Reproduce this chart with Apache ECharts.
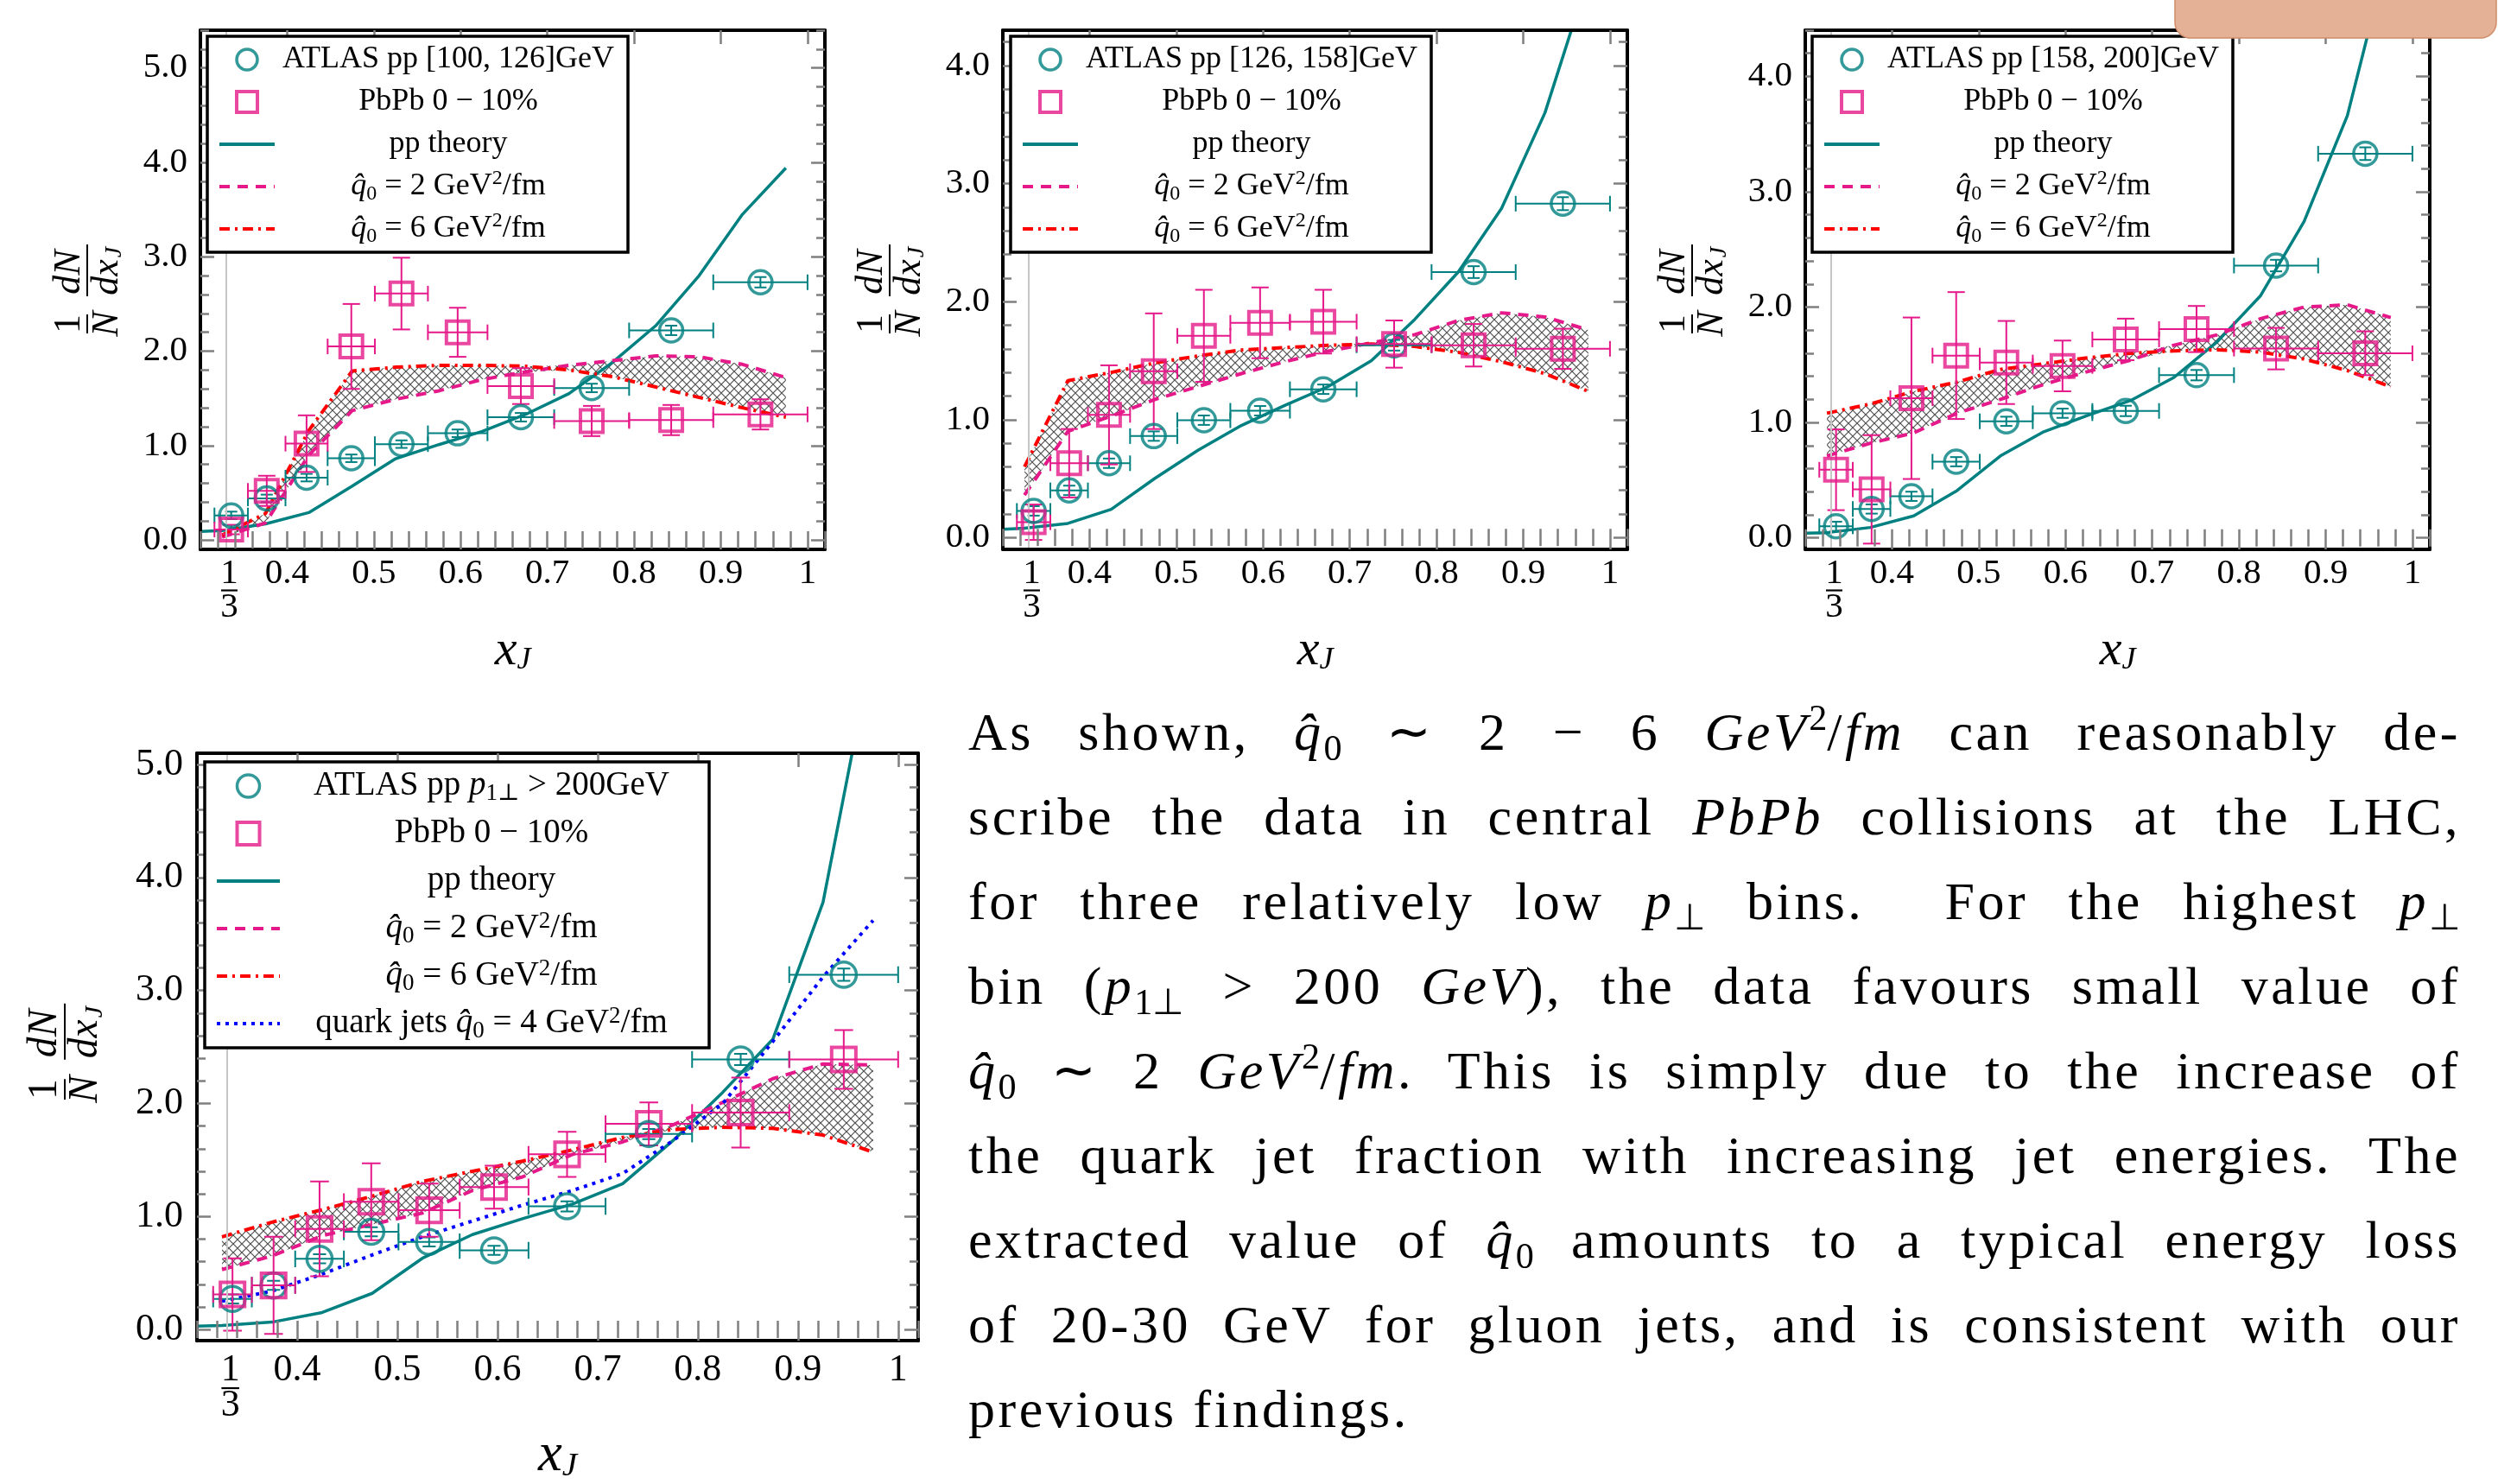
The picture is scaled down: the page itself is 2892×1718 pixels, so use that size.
<!DOCTYPE html>
<html>
<head>
<meta charset="utf-8">
<title>x_J distributions</title>
<script src="https://cdn.jsdelivr.net/npm/echarts@6/dist/echarts.min.js"></script>
<style>
  html, body { margin: 0; padding: 0; background: #fff; }
  #main { position: absolute; left: 0; top: 0; width: 2892px; height: 1718px; }
  #para { position: absolute; left: 1121px; top: 798px; width: 1728px;
          font-family: "Liberation Serif", serif; font-size: 62px; letter-spacing: 3.5px; color: #000; }
  #para .ln { height: 98px; line-height: 98px; text-align: justify; text-align-last: justify; }
  #para .last { text-align-last: left; }
  #para sub, #para sup { font-size: 0.68em; line-height: 0; letter-spacing: 0; }
  #para sub { vertical-align: -0.28em; }
  #para sup { vertical-align: 0.55em; }
</style>
</head>
<body>
<div id="main"></div>
<div id="para">
  <div class="ln">As shown, <i>q&#770;</i><sub>0</sub> &sim; 2 &minus; 6 <i>GeV</i><sup>2</sup>/<i>fm</i> can reasonably de-</div>
  <div class="ln">scribe the data in central <i>PbPb</i> collisions at the LHC,</div>
  <div class="ln">for three relatively low <i>p</i><sub>&perp;</sub> bins. &nbsp;For the highest <i>p</i><sub>&perp;</sub></div>
  <div class="ln">bin (<i>p</i><sub>1&perp;</sub> &gt; 200 <i>GeV</i>), the data favours small value of</div>
  <div class="ln"><i>q&#770;</i><sub>0</sub> &sim; 2 <i>GeV</i><sup>2</sup>/<i>fm</i>. This is simply due to the increase of</div>
  <div class="ln">the quark jet fraction with increasing jet energies. The</div>
  <div class="ln">extracted value of <i>q&#770;</i><sub>0</sub> amounts to a typical energy loss</div>
  <div class="ln">of 20-30 GeV for gluon jets, and is consistent with our</div>
  <div class="ln last">previous findings.</div>
</div>
<script>
// x_J bins of the ATLAS / PbPb points
const binLo  = [0.3162, 0.3548, 0.3981, 0.4467, 0.5012, 0.5623, 0.6310, 0.7079, 0.7943, 0.8913];
const binHi  = [0.3548, 0.3981, 0.4467, 0.5012, 0.5623, 0.6310, 0.7079, 0.7943, 0.8913, 1.0];
const binMid = [0.3355, 0.3765, 0.4224, 0.4740, 0.5318, 0.5966, 0.6695, 0.7511, 0.8428, 0.9457];

// x grid of the theory curves
const tX = [0.30, 0.325, 0.375, 0.425, 0.475, 0.525, 0.575, 0.625, 0.675, 0.725, 0.775, 0.825, 0.875, 0.925, 0.975];
const bX = [0.325, 0.375, 0.425, 0.475, 0.525, 0.575, 0.625, 0.675, 0.725, 0.775, 0.825, 0.875, 0.925, 0.975];

// tick labels
const xTickLabels = [1 / 3, 0.4, 0.5, 0.6, 0.7, 0.8, 0.9, 1.0];
const xMajor = [0.4, 0.5, 0.6, 0.7, 0.8, 0.9, 1.0];

// panel 1: [100, 126] GeV
const p1Atlas    = [0.26, 0.44, 0.66, 0.865, 1.015, 1.13, 1.30, 1.61, 2.22, 2.73];
const p1AtlasErr = [0.04, 0.04, 0.04, 0.04, 0.04, 0.04, 0.045, 0.045, 0.05, 0.055];
const p1PbPb     = [0.11, 0.52, 1.02, 2.05, 2.61, 2.20, 1.63, 1.26, 1.27, 1.33];
const p1PbPbErr  = [0.05, 0.16, 0.30, 0.45, 0.38, 0.26, 0.19, 0.16, 0.16, 0.16];
const p1Theory   = [0.09, 0.10, 0.17, 0.29, 0.57, 0.86, 1.01, 1.15, 1.33, 1.55, 1.88, 2.27, 2.80, 3.45, 3.94];
const p1Q2       = [0.03, 0.18, 0.90, 1.37, 1.49, 1.58, 1.70, 1.78, 1.85, 1.90, 1.95, 1.94, 1.86, 1.72];
const p1Q6       = [0.05, 0.28, 1.16, 1.79, 1.83, 1.85, 1.85, 1.84, 1.80, 1.73, 1.62, 1.51, 1.40, 1.30];

// panel 2: [126, 158] GeV
const p2Atlas    = [0.226, 0.40, 0.63, 0.86, 0.995, 1.075, 1.257, 1.63, 2.25, 2.83];
const p2AtlasErr = [0.04, 0.04, 0.04, 0.04, 0.04, 0.04, 0.04, 0.045, 0.05, 0.055];
const p2PbPb     = [0.13, 0.63, 1.04, 1.41, 1.71, 1.82, 1.83, 1.64, 1.63, 1.60];
const p2PbPbErr  = [0.15, 0.29, 0.42, 0.49, 0.39, 0.30, 0.27, 0.20, 0.18, 0.17];
const p2Theory   = [0.07, 0.08, 0.12, 0.24, 0.50, 0.74, 0.95, 1.12, 1.28, 1.50, 1.85, 2.25, 2.79, 3.60, 4.75];
const p2Q2       = [0.36, 0.90, 1.03, 1.17, 1.28, 1.39, 1.49, 1.58, 1.65, 1.72, 1.84, 1.905, 1.87, 1.76];
const p2Q6       = [0.60, 1.33, 1.40, 1.48, 1.54, 1.59, 1.61, 1.63, 1.64, 1.62, 1.57, 1.49, 1.39, 1.24];

// panel 3: [158, 200] GeV
const p3Atlas    = [0.10, 0.25, 0.36, 0.66, 1.01, 1.08, 1.10, 1.41, 2.36, 3.33];
const p3AtlasErr = [0.04, 0.04, 0.04, 0.04, 0.04, 0.04, 0.045, 0.045, 0.05, 0.055];
const p3PbPb     = [0.59, 0.42, 1.21, 1.58, 1.52, 1.49, 1.72, 1.81, 1.64, 1.60];
const p3PbPbErr  = [0.35, 0.47, 0.70, 0.55, 0.36, 0.22, 0.18, 0.20, 0.18, 0.19];
const p3Theory   = [0.04, 0.045, 0.09, 0.19, 0.41, 0.71, 0.92, 1.06, 1.19, 1.39, 1.70, 2.10, 2.74, 3.66, 5.15];
const p3Q2       = [0.71, 0.82, 0.91, 1.08, 1.20, 1.33, 1.44, 1.54, 1.67, 1.76, 1.90, 2.00, 2.02, 1.91];
const p3Q6       = [1.08, 1.16, 1.27, 1.35, 1.46, 1.51, 1.56, 1.60, 1.62, 1.63, 1.61, 1.55, 1.45, 1.31];

// panel 4: p1 > 200 GeV
const p4Atlas    = [0.27, 0.39, 0.625, 0.865, 0.775, 0.70, 1.09, 1.73, 2.39, 3.14];
const p4AtlasErr = [0.04, 0.04, 0.04, 0.04, 0.04, 0.04, 0.045, 0.045, 0.05, 0.055];
const p4PbPb     = [0.31, 0.39, 0.89, 1.13, 1.055, 1.26, 1.55, 1.82, 1.92, 2.39];
const p4PbPbErr  = [0.32, 0.43, 0.42, 0.34, 0.235, 0.19, 0.20, 0.19, 0.31, 0.26];
const p4Theory   = [0.03, 0.035, 0.065, 0.15, 0.32, 0.63, 0.84, 0.98, 1.11, 1.29, 1.67, 2.10, 2.57, 3.78, 6.05];
const p4Q2       = [0.53, 0.65, 0.83, 0.93, 1.03, 1.23, 1.35, 1.55, 1.66, 1.81, 2.01, 2.22, 2.35, 2.34];
const p4Q6       = [0.82, 0.95, 1.06, 1.18, 1.31, 1.40, 1.49, 1.59, 1.70, 1.77, 1.79, 1.78, 1.72, 1.57];
const p4Quark    = [0.25, 0.34, 0.49, 0.66, 0.82, 0.96, 1.10, 1.23, 1.38, 1.67, 2.00, 2.55, 3.12, 3.62];

const SERIF = '"Liberation Serif", "DejaVu Serif", serif';
const TEAL = '#008080', PINK = '#e5198a', RED = '#ff0000', BLUE = '#0000ff', TICK = '#7f7f7f';

const NAME_PB = 'PbPb 0 − 10%';
const NAME_TH = 'pp theory';
const NAME_Q2 = 'q̂0 = 2 GeV²/fm';
const NAME_Q6 = 'q̂0 = 6 GeV²/fm';
const NAME_QK = 'quark jets q̂0 = 4 GeV²/fm';
const LINE_NAMES = [NAME_TH, NAME_Q2, NAME_Q6, NAME_QK];

const legendText = {
  'ATLAS pp [100, 126]GeV': '{r|ATLAS pp [100, 126]GeV}',
  'ATLAS pp [126, 158]GeV': '{r|ATLAS pp [126, 158]GeV}',
  'ATLAS pp [158, 200]GeV': '{r|ATLAS pp [158, 200]GeV}',
  'ATLAS pp p1⊥ > 200GeV': '{r|ATLAS pp }{i|p}{sb|1⊥}{r| > 200GeV}',
  [NAME_PB]: '{r|PbPb 0 − 10%}',
  [NAME_TH]: '{r|pp theory}',
  [NAME_Q2]: '{i|q̂}{sb|0}{r| = 2 GeV}{sp|2}{r|/fm}',
  [NAME_Q6]: '{i|q̂}{sb|0}{r| = 6 GeV}{sp|2}{r|/fm}',
  [NAME_QK]: '{r|quark jets }{i|q̂}{sb|0}{r| = 4 GeV}{sp|2}{r|/fm}'
};

const panels = [
  { grid: { left: 232, top: 35, width: 723, height: 601 }, yMax: 5.4, s: 1,
    atlasName: 'ATLAS pp [100, 126]GeV', atlas: p1Atlas, atlasErr: p1AtlasErr, pbpb: p1PbPb, pbpbErr: p1PbPbErr,
    theory: p1Theory, q2: p1Q2, q6: p1Q6, legend: [240, 42], yLab: [101, 335], nameGap: 84, xMargin: 13 },
  { grid: { left: 1161, top: 35, width: 723, height: 601 }, yMax: 4.3, s: 1,
    atlasName: 'ATLAS pp [126, 158]GeV', atlas: p2Atlas, atlasErr: p2AtlasErr, pbpb: p2PbPb, pbpbErr: p2PbPbErr,
    theory: p2Theory, q2: p2Q2, q6: p2Q6, legend: [1170, 42], yLab: [1030, 335], nameGap: 84, xMargin: 13 },
  { grid: { left: 2090, top: 35, width: 723, height: 601 }, yMax: 4.4, s: 1,
    atlasName: 'ATLAS pp [158, 200]GeV', atlas: p3Atlas, atlasErr: p3AtlasErr, pbpb: p3PbPb, pbpbErr: p3PbPbErr,
    theory: p3Theory, q2: p3Q2, q6: p3Q6, legend: [2098, 42], yLab: [1959, 335], nameGap: 84, xMargin: 13 },
  { grid: { left: 228, top: 872, width: 835, height: 694 }, yMax: 5.1, s: 1.08,
    atlasName: 'ATLAS pp p1⊥ > 200GeV', atlas: p4Atlas, atlasErr: p4AtlasErr, pbpb: p4PbPb, pbpbErr: p4PbPbErr,
    theory: p4Theory, q2: p4Q2, q6: p4Q6, quark: p4Quark, legend: [237, 882], yLab: [75, 1218], nameGap: 102, xMargin: 18 }
];

function steps(a, b, d) {
  const out = [];
  for (let k = 0; a + k * d <= b + 1e-9; k++) out.push(Math.round((a + k * d) * 1000) / 1000);
  return out;
}
const xMinor = steps(0.3, 1.02, 0.02);

// cross hatch tile for the band between the two q0 curves
function hatchTile() {
  const c = document.createElement('canvas');
  c.width = 10; c.height = 10;
  const g = c.getContext('2d');
  g.strokeStyle = '#505050';
  g.lineWidth = 1.2;
  g.beginPath();
  g.moveTo(-5, -5); g.lineTo(15, 15);
  g.moveTo(15, -5); g.lineTo(-5, 15);
  g.stroke();
  return c;
}
const hatch = hatchTile();

function errRender(color, capX, capY) {
  return function (params, api) {
    const x = api.value(0), y = api.value(1);
    const c = api.coord([x, y]);
    const l = api.coord([api.value(2), y]);
    const r = api.coord([api.value(3), y]);
    const b = api.coord([x, api.value(4)]);
    const t = api.coord([x, api.value(5)]);
    const st = { stroke: color, lineWidth: 2 };
    const seg = (x1, y1, x2, y2) => ({ type: 'line', shape: { x1, y1, x2, y2 }, style: st });
    return {
      type: 'group',
      children: [
        seg(l[0], c[1], r[0], c[1]),
        seg(l[0], c[1] - capX, l[0], c[1] + capX),
        seg(r[0], c[1] - capX, r[0], c[1] + capX),
        seg(c[0], b[1], c[0], t[1]),
        seg(c[0] - capY, b[1], c[0] + capY, b[1]),
        seg(c[0] - capY, t[1], c[0] + capY, t[1])
      ]
    };
  };
}

function yFraction(cx, cy, s) {
  const f = 44 * s;
  const txt = (x, y, t, italic, size) => ({
    type: 'text', x: x * s, y: y * s,
    style: { text: t, fontFamily: SERIF, fontSize: size || f, fontStyle: italic ? 'italic' : 'normal',
             fill: '#000', align: 'center', verticalAlign: 'middle' }
  });
  const bar = (x1, x2) => ({ type: 'line', shape: { x1: x1 * s, y1: 0, x2: x2 * s, y2: 0 }, style: { stroke: '#000', lineWidth: 2 } });
  return {
    type: 'group', x: cx, y: cy, rotation: Math.PI / 2, z: 10,
    children: [
      txt(-40, -21, '1', false), bar(-51, -29), txt(-40, 23, 'N', true),
      txt(20, -21, 'dN', true), bar(-8, 52), txt(14, 23, 'dx', true), txt(43, 32, 'J', true, 28 * s)
    ]
  };
}

const option = {
  animation: false,
  backgroundColor: '#fff',
  grid: [], xAxis: [], yAxis: [], legend: [], series: [],
  graphic: { elements: [] }
};

panels.forEach((P, i) => {
  const s = P.s;
  const fs = Math.round(41 * s);
  const lh = Math.round(30 * s);
  option.grid.push(Object.assign({ containLabel: false, show: false }, P.grid));

  const frame = { show: true, onZero: false, lineStyle: { color: '#000', width: 4 } };
  const majTick = (vals) => ({ show: true, inside: true, length: 16, customValues: vals, lineStyle: { color: TICK, width: 2.5 } });
  const minTick = (vals) => ({ show: true, inside: true, length: 10, customValues: vals, lineStyle: { color: TICK, width: 2.5 } });
  const xBase = { gridIndex: i, type: 'value', min: 0.3, max: 1.02, splitLine: { show: false }, z: 6,
                  axisLabel: { show: false }, axisLine: { show: false } };
  option.xAxis.push(
    Object.assign({}, xBase, {
      position: 'bottom', axisLine: frame, axisTick: majTick(xMajor),
      axisLabel: {
        show: true, customValues: xTickLabels, margin: P.xMargin, color: '#000',
        fontFamily: SERIF, fontSize: fs, lineHeight: lh,
        formatter: (v) => Math.abs(v - 1 / 3) < 1e-6 ? '{n|1}\n{bar| }\n{n|3}' : (v === 1 ? '1' : v.toFixed(1)),
        rich: {
          n: { fontFamily: SERIF, fontSize: fs, lineHeight: lh, color: '#000' },
          bar: { width: 19 * s, height: 2.2, lineHeight: 9 * s, backgroundColor: '#000', fontSize: 4 }
        }
      },
      name: '{x|x}{j|J}', nameLocation: 'middle', nameGap: P.nameGap,
      nameTextStyle: { rich: {
        x: { fontFamily: SERIF, fontStyle: 'italic', fontSize: 58 * s, color: '#000', lineHeight: 58 * s },
        j: { fontFamily: SERIF, fontStyle: 'italic', fontSize: 36 * s, color: '#000', verticalAlign: 'bottom', lineHeight: 58 * s }
      } }
    }),
    Object.assign({}, xBase, { position: 'bottom', axisTick: minTick(xMinor) }),
    Object.assign({}, xBase, { position: 'top', axisLine: frame, axisTick: majTick(xMajor) }),
    Object.assign({}, xBase, { position: 'top', axisTick: minTick(xMinor) })
  );

  const yMaj = steps(0, Math.floor(P.yMax), 1);
  const yMin = steps(0, P.yMax, 0.2);
  const yBase = { gridIndex: i, type: 'value', min: -0.1, max: P.yMax, splitLine: { show: false }, z: 6,
                  axisLabel: { show: false }, axisLine: { show: false } };
  option.yAxis.push(
    Object.assign({}, yBase, {
      position: 'left', axisLine: frame, axisTick: majTick(yMaj),
      axisLabel: { show: true, customValues: yMaj, margin: Math.round(15 * s), color: '#000',
                   fontFamily: SERIF, fontSize: fs, formatter: (v) => v.toFixed(1) }
    }),
    Object.assign({}, yBase, { position: 'left', axisTick: minTick(yMin) }),
    Object.assign({}, yBase, { position: 'right', axisLine: frame, axisTick: majTick(yMaj) }),
    Object.assign({}, yBase, { position: 'right', axisTick: minTick(yMin) })
  );

  const ax = { xAxisIndex: 4 * i, yAxisIndex: 4 * i };
  const lineSeries = (name, xs, ys, color, type, width, z) => Object.assign({
    name, type: 'line', data: xs.map((x, k) => [x, ys[k]]), symbol: 'none', showSymbol: false,
    clip: true, z, lineStyle: { color, width, type }, itemStyle: { color }, silent: true
  }, ax);

  // thin grey guide at x = 1/3
  option.series.push(Object.assign({
    name: 'guide', type: 'line', data: [], z: 0, silent: true,
    markLine: { silent: true, symbol: 'none', label: { show: false },
                lineStyle: { color: '#c6c6c6', width: 2, type: 'solid' }, data: [{ xAxis: 1 / 3 }] }
  }, ax));

  // hatched band between the two q0 curves
  const q2 = P.q2, q6 = P.q6;
  option.series.push(Object.assign({
    name: 'band', type: 'custom', clip: true, z: 1, silent: true,
    data: [[bX[0], q2[0]]], encode: { x: 0, y: 1 },
    renderItem: (params, api) => {
      const up = [], dn = [];
      bX.forEach((x, k) => {
        up.push(api.coord([x, Math.max(q2[k], q6[k])]));
        dn.push(api.coord([x, Math.min(q2[k], q6[k])]));
      });
      return { type: 'polygon', shape: { points: up.concat(dn.reverse()) },
               style: { fill: { image: hatch, repeat: 'repeat' }, stroke: null } };
    }
  }, ax));

  option.series.push(
    lineSeries(NAME_TH, tX, P.theory, TEAL, 'solid', 3.5, 3),
    lineSeries(NAME_Q2, bX, P.q2, PINK, [12, 9], 4, 3),
    lineSeries(NAME_Q6, bX, P.q6, RED, [12, 6, 3, 6], 4, 3)
  );
  if (P.quark) option.series.push(lineSeries(NAME_QK, bX, P.quark, BLUE, [4, 6], 4, 3));

  // error bars
  option.series.push(Object.assign({
    name: 'atlasErr', type: 'custom', clip: true, z: 4, silent: true, encode: { x: 0, y: 1 },
    data: binMid.map((x, k) => [x, P.atlas[k], binLo[k], binHi[k], P.atlas[k] - P.atlasErr[k], P.atlas[k] + P.atlasErr[k]]),
    renderItem: errRender(TEAL, 9 * s, 7 * s)
  }, ax), Object.assign({
    name: 'pbpbErr', type: 'custom', clip: true, z: 4, silent: true, encode: { x: 0, y: 1 },
    data: binMid.map((x, k) => [x, P.pbpb[k], binLo[k], binHi[k], P.pbpb[k] - P.pbpbErr[k], P.pbpb[k] + P.pbpbErr[k]]),
    renderItem: errRender(PINK, 9 * s, 10 * s)
  }, ax));

  // hollow markers
  option.series.push(Object.assign({
    name: P.atlasName, type: 'scatter', z: 5, silent: true, symbol: 'circle', symbolSize: 27 * s,
    data: binMid.map((x, k) => [x, P.atlas[k]]),
    itemStyle: { color: 'rgba(0,0,0,0)', borderColor: TEAL, borderWidth: 3.5 }
  }, ax), Object.assign({
    name: NAME_PB, type: 'scatter', z: 5, silent: true, symbol: 'rect', symbolSize: 26 * s,
    data: binMid.map((x, k) => [x, P.pbpb[k]]),
    itemStyle: { color: 'rgba(0,0,0,0)', borderColor: PINK, borderWidth: 4 }
  }, ax));

  const names = [P.atlasName, NAME_PB, NAME_TH, NAME_Q2, NAME_Q6];
  if (P.quark) names.push(NAME_QK);
  const legendData = names.map((n) => {
    if (LINE_NAMES.indexOf(n) >= 0) return { name: n, itemStyle: { color: 'rgba(0,0,0,0)', borderWidth: 0, opacity: 0 } };
    if (n === NAME_PB) return { name: n, icon: 'path://M0,0H10V10H0Z' };
    return { name: n };
  });
  const lf = Math.round(36 * s);
  const big = !!P.quark;
  option.legend.push({
    show: true, orient: 'vertical', left: P.legend[0], top: P.legend[1], z: 20,
    data: legendData, selectedMode: false, symbolKeepAspect: true,
    itemWidth: big ? 73 : 64, itemHeight: Math.round(24 * s), itemGap: big ? 11 : 7,
    padding: [6, 12, 6, 12],
    backgroundColor: '#fff', borderColor: '#000', borderWidth: 3.5, borderRadius: 0,
    lineStyle: { width: 4 }, itemStyle: { borderWidth: 'inherit' },
    formatter: (name) => legendText[name] || name,
    textStyle: {
      width: big ? 480 : 392, color: '#000', fontFamily: SERIF, fontSize: lf, lineHeight: big ? 44 : 42,
      rich: {
        r: { fontFamily: SERIF, fontSize: lf, align: 'center', color: '#000', lineHeight: big ? 44 : 42 },
        i: { fontFamily: SERIF, fontSize: lf, fontStyle: 'italic', align: 'center', color: '#000', lineHeight: big ? 44 : 42 },
        sb: { fontFamily: SERIF, fontSize: Math.round(lf * 0.68), align: 'center', color: '#000', verticalAlign: 'bottom' },
        sp: { fontFamily: SERIF, fontSize: Math.round(lf * 0.68), align: 'center', color: '#000', verticalAlign: 'top' }
      }
    }
  });

  option.graphic.elements.push(yFraction(P.yLab[0], P.yLab[1], s));
});

// salmon tab in the top-right corner
option.graphic.elements.push({
  type: 'rect', z: 100, shape: { x: 2518, y: -30, width: 372, height: 74, r: 18 },
  style: { fill: '#e5b196', stroke: '#cf8d69', lineWidth: 1.5 }
});

const chart = echarts.init(document.getElementById('main'));
chart.setOption(option);
</script>
</body>
</html>
